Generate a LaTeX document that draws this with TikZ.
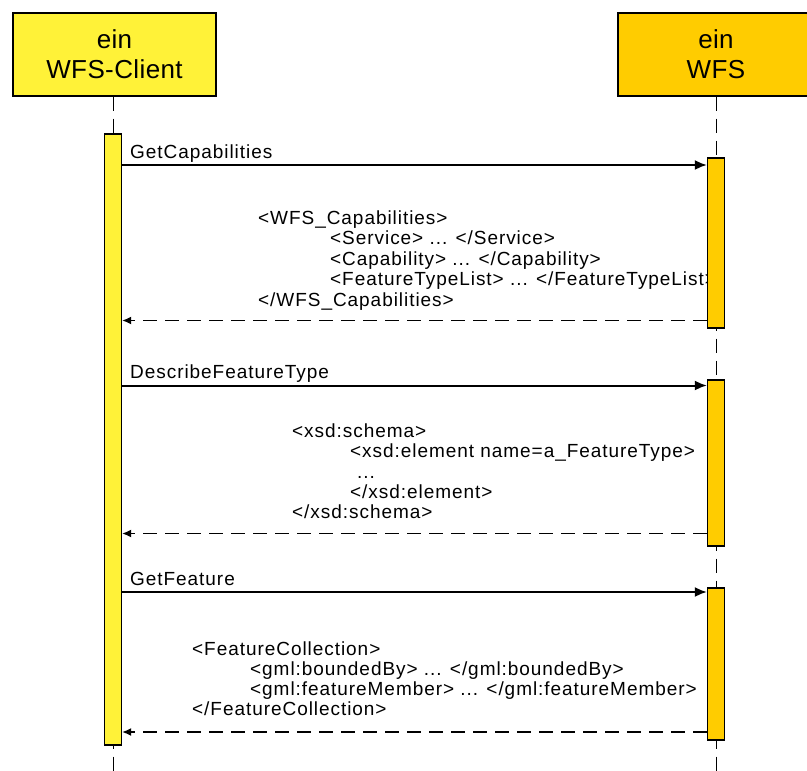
\documentclass[tikz,border=0pt]{standalone}
\usepackage{fontspec}
\setmainfont{Liberation Sans}
\newfontfamily\msgfont{Liberation Sans}[LetterSpace=5]
\newfontfamily\headfont{Liberation Sans}[LetterSpace=1.5]
\usetikzlibrary{arrows.meta}
\definecolor{clientyellow}{RGB}{255,242,56}
\definecolor{serveryellow}{RGB}{255,204,0}
\begin{document}
\begin{tikzpicture}[x=1pt, y=-1pt,
  head/.style={draw=black, line width=1.3pt, minimum height=83pt, align=center,
    inner sep=0pt, font=\headfont\fontsize{26}{30}\selectfont},
  actbar/.style={draw=black, line width=1.2pt, minimum width=17pt, inner sep=0pt},
  life/.style={line width=0.9pt, dash pattern=on 14pt off 8pt},
  call/.style={line width=2pt, -{Latex[length=12pt,width=10pt]}},
  reply/.style={line width=1.5pt, dash pattern=on 14pt off 8pt, -{Latex[length=9pt,width=8pt]}},
  txt/.style={anchor=base west, inner sep=0pt, font=\msgfont\fontsize{19}{20}\selectfont}
]
\clip (0,0) rectangle (807,771);

% participants
\node[head, fill=clientyellow, minimum width=203pt] (client) at (114.5,54.5) {ein\\WFS-Client};
\node[head, fill=serveryellow, minimum width=196pt] (wfs) at (716,54.5) {ein\\WFS};

% lifelines
\coordinate (clientend) at (113,775);
\coordinate (wfsend) at (716,775);
\draw[life] (client.south -| clientend) -- (clientend);
\draw[life] (wfs.south -| wfsend) -- (wfsend);

% activation bars
\node[actbar, fill=clientyellow, minimum height=611pt] (cbar) at (113,439.5) {};
\node[actbar, fill=serveryellow, minimum height=170pt] (wbarA) at (716,243) {};
\node[actbar, fill=serveryellow, minimum height=166pt] (wbarB) at (716,463) {};
\node[actbar, fill=serveryellow, minimum height=152pt] (wbarC) at (716,664) {};

% GetCapabilities
\coordinate (yA1) at (0,165);
\coordinate (yA2) at (0,320.5);
\draw[call] (cbar.east |- yA1) -- (wbarA.west |- yA1);
\node[txt] (mA) at (130,158) {GetCapabilities};
\node[txt] (rA1) at (258,224) {<WFS\_Capabilities>};
\node[txt] (rA2) at (330,244.5) {<Service> ... </Service>};
\node[txt] (rA3) at (330,265) {<Capability> ... </Capability>};
\begin{scope}
  \clip (300,200) rectangle (707.5,300);
  \node[txt] (rA4) at (330,285.5) {<FeatureTypeList> ... </FeatureTypeList>};
\end{scope}
\node[txt] (rA5) at (258,306) {</WFS\_Capabilities>};
\draw[reply] (wbarA.west |- yA2) -- (cbar.east |- yA2);

% DescribeFeatureType
\coordinate (yB1) at (0,385.5);
\coordinate (yB2) at (0,533.5);
\draw[call] (cbar.east |- yB1) -- (wbarB.west |- yB1);
\node[txt] (mB) at (130,378.5) {DescribeFeatureType};
\node[txt] (rB1) at (292,437) {<xsd:schema>};
\node[txt] (rB2) at (350,457.5) {<xsd:element name=a\_FeatureType>};
\node[txt] (rB3) at (357,478) {...};
\node[txt] (rB4) at (350,498) {</xsd:element>};
\node[txt] (rB5) at (292,518.5) {</xsd:schema>};
\draw[reply] (wbarB.west |- yB2) -- (cbar.east |- yB2);

% GetFeature
\coordinate (yC1) at (0,592);
\coordinate (yC2) at (0,732);
\draw[call] (cbar.east |- yC1) -- (wbarC.west |- yC1);
\node[txt] (mC) at (130,585) {GetFeature};
\node[txt] (rC1) at (192,655) {<FeatureCollection>};
\node[txt] (rC2) at (250,675) {<gml:boundedBy> ... </gml:boundedBy>};
\node[txt] (rC3) at (250,695) {<gml:featureMember> ... </gml:featureMember>};
\node[txt] (rC4) at (192,715) {</FeatureCollection>};
\draw[reply] (wbarC.west |- yC2) -- (cbar.east |- yC2);
\end{tikzpicture}
\end{document}
